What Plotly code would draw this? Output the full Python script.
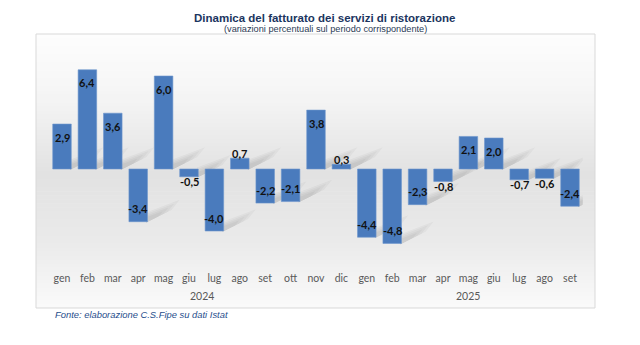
import plotly.graph_objects as go

# Monthly year-on-year change of restaurant-services turnover (%)
months = ["gen", "feb", "mar", "apr", "mag", "giu", "lug", "ago", "set", "ott", "nov", "dic",
          "gen", "feb", "mar", "apr", "mag", "giu", "lug", "ago", "set"]
years = ["2024"] * 12 + ["2025"] * 9
values = [2.9, 6.4, 3.6, -3.4, 6.0, -0.5, -4.0, 0.7, -2.2, -2.1, 3.8, 0.3,
          -4.4, -4.8, -2.3, -0.8, 2.1, 2.0, -0.7, -0.6, -2.4]

W, H = 640, 345
x_pos = list(range(len(values)))
BAR_W = 0.73

# plot-area geometry in pixels
plot_l, plot_r = 49.3, 582.7
plot_top, plot_bot, zero_y, unit_px = 50, 260, 169, 15.5
cat_px = (plot_r - plot_l) / len(values)


def px(x):
    return x / W


def py(y):
    return 1 - y / H


fig = go.Figure()

fig.add_trace(go.Bar(
    x=x_pos,
    y=values,
    width=BAR_W,
    marker=dict(color="#4a7bbd", line=dict(color="#6b96cc", width=0.6)),
    cliponaxis=False,
    hoverinfo="skip",
))

# Chart frame with a soft vertical grey gradient
box_l, box_r, box_t, box_b = 36, 595, 34, 308
stops = [(34, 253), (90, 246), (175, 226), (240, 234), (308, 250)]


def shade(y):
    for (y0, c0), (y1, c1) in zip(stops, stops[1:]):
        if y0 <= y <= y1:
            return c0 + (c1 - c0) * (y - y0) / (y1 - y0)
    return stops[-1][1]


shapes = []
n_bands = 68
band_h = (box_b - box_t) / n_bands
for i in range(n_bands):
    y0 = box_t + i * band_h
    y1 = y0 + band_h + 0.6
    c = int(round(shade(y0 + band_h / 2)))
    shapes.append(dict(type="rect", xref="paper", yref="paper",
                       x0=px(box_l), x1=px(box_r), y0=py(min(y1, box_b)), y1=py(y0),
                       fillcolor=f"rgb({c},{c},{c})", line=dict(width=0), layer="below"))
shapes.append(dict(type="rect", xref="paper", yref="paper",
                   x0=px(box_l), x1=px(box_r), y0=py(box_b), y1=py(box_t),
                   fillcolor="rgba(0,0,0,0)", line=dict(color="#d9d9d9", width=1), layer="below"))

# Soft perspective shadows cast from the base of each bar (stacked translucent layers)
for i, v in enumerate(values):
    xr = i + BAR_W / 2
    yb = min(v, 0)
    for scale in (1.15, 0.95, 0.75, 0.55):
        dx = 28 * scale / cat_px
        up = 19 * scale / unit_px
        th = 8 * scale / unit_px
        path = (f"M {xr - 0.05},{yb - 1 / unit_px} L {xr - 0.05},{yb + th} "
                f"L {xr + dx},{yb + up} L {xr + dx * 0.75},{yb + up - th * 1.1} Z")
        shapes.append(dict(type="path", path=path, xref="x", yref="y",
                           fillcolor="rgba(40,40,40,0.035)", line=dict(width=0), layer="below"))

label_font = dict(family="Lato, Calibri, sans-serif", size=11, color="#111111", weight="bold")
head_font = "Liberation Sans, Arial, sans-serif"
annotations = [
    dict(text="<b>Dinamica del fatturato dei servizi di ristorazione</b>",
         x=px(324), y=py(18), xref="paper", yref="paper", showarrow=False,
         xanchor="center", yanchor="middle",
         font=dict(family=head_font, size=11.5, color="#1b3560")),
    dict(text="(variazioni percentuali sul periodo corrispondente)",
         x=px(325), y=py(29), xref="paper", yref="paper", showarrow=False,
         xanchor="center", yanchor="middle",
         font=dict(family=head_font, size=9.2, color="#2b3a55")),
    dict(text="<i>Fonte: elaborazione C.S.Fipe su dati Istat</i>",
         x=px(53), y=py(314), xref="paper", yref="paper", showarrow=False,
         xanchor="left", yanchor="middle",
         font=dict(family=head_font, size=9.4, color="#1f4e8c")),
]

# Value labels: inside the bar end, or just past it for short bars
for i, v in enumerate(values):
    sign = 1 if v >= 0 else -1
    shift = -13 * sign if abs(v) * unit_px >= 20 else 5 * sign
    annotations.append(dict(text=f"{v:.1f}".replace(".", ","), x=i, y=v, xref="x", yref="y",
                            yshift=shift, showarrow=False, xanchor="center", yanchor="middle",
                            font=label_font))

# Year labels centred under their months
for yr in sorted(set(years)):
    idx = [i for i, y in enumerate(years) if y == yr]
    annotations.append(dict(text=yr, x=(idx[0] + idx[-1]) / 2, y=py(296),
                            xref="x", yref="paper", showarrow=False,
                            xanchor="center", yanchor="middle",
                            font=dict(family="Lato, Calibri, sans-serif", size=10.5, color="#595959")))

fig.update_layout(
    width=W, height=H,
    margin=dict(l=0, r=0, t=0, b=0),
    paper_bgcolor="white",
    plot_bgcolor="rgba(0,0,0,0)",
    showlegend=False,
    shapes=shapes,
    annotations=annotations,
    xaxis=dict(domain=[px(plot_l), px(plot_r)], range=[-0.5, len(values) - 0.5],
               tickmode="array", tickvals=x_pos, ticktext=months,
               showgrid=False, zeroline=False, showline=False, ticks="",
               tickfont=dict(family="Lato, Calibri, sans-serif", size=10.5, color="#595959"),
               ticklabelstandoff=10),
    yaxis=dict(domain=[py(plot_bot), py(plot_top)],
               range=[-(plot_bot - zero_y) / unit_px, (zero_y - plot_top) / unit_px],
               visible=False, showgrid=False, zeroline=False),
)

fig.write_html("out.html")
